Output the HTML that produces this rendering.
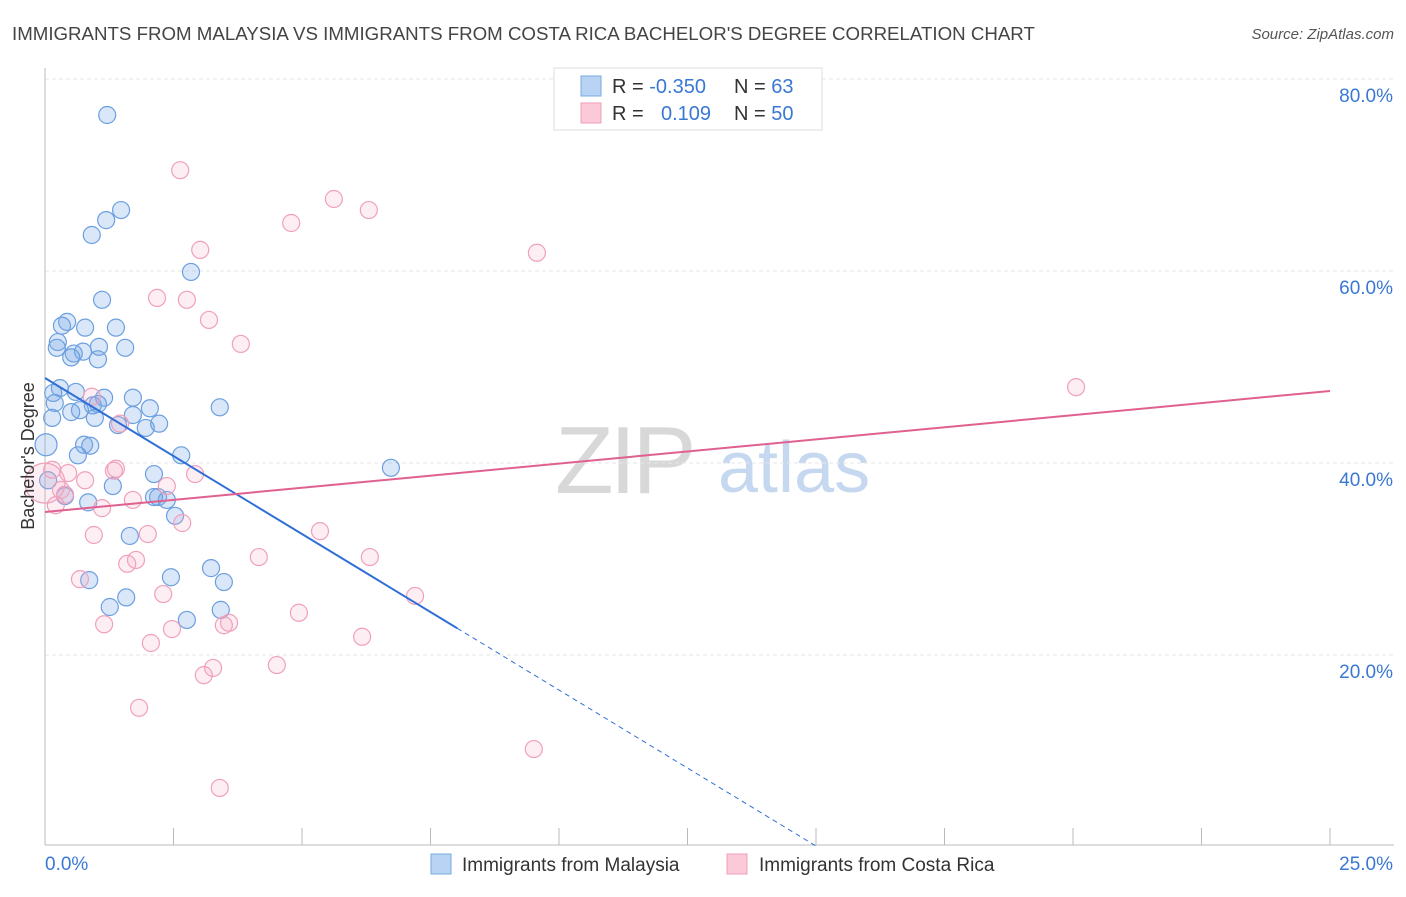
<!DOCTYPE html>
<html><head><meta charset="utf-8"><style>
body{margin:0;background:#fff;font-family:"Liberation Sans",sans-serif;}
svg text{font-family:"Liberation Sans",sans-serif;}
</style></head><body>
<svg id="chart" width="1406" height="892" xmlns="http://www.w3.org/2000/svg">
<text x="12" y="40" font-size="18.7" fill="#444">IMMIGRANTS FROM MALAYSIA VS IMMIGRANTS FROM COSTA RICA BACHELOR'S DEGREE CORRELATION CHART</text>
<text x="1394" y="39" font-size="15" fill="#555" text-anchor="end" font-style="italic">Source: ZipAtlas.com</text>
<g>
<text x="555" y="493" font-size="96" fill="#d8d8d8" font-family="Liberation Serif" letter-spacing="-4">ZIP</text>
<text x="718" y="492" font-size="72" fill="#c5d8f0">atlas</text>
</g>
<g id="grid"></g>
<g id="axes"></g>
<g id="marks"></g>
<g id="lines"></g>
<text transform="translate(34,456) rotate(-90)" font-size="18" fill="#333" text-anchor="middle">Bachelor's Degree</text>
<g>
<rect x="554" y="68" width="268" height="62" fill="#fff" stroke="#ddd"/>
<rect x="581" y="76" width="20" height="20" fill="#b8d3f3" stroke="#7aa8e0"/>
<rect x="581" y="103" width="20" height="20" fill="#fcc9d8" stroke="#eea0b8"/>
<text x="612" y="93" font-size="20" fill="#333">R = <tspan fill="#3a78d4">-0.350</tspan></text>
<text x="734" y="93" font-size="20" fill="#333">N = <tspan fill="#3a78d4">63</tspan></text>
<text x="612" y="120" font-size="20" fill="#333">R = </text><text x="661" y="120" font-size="20" fill="#3a78d4">0.109</text>
<text x="734" y="120" font-size="20" fill="#333">N = <tspan fill="#3a78d4">50</tspan></text>
</g>
<g>
<rect x="431" y="854" width="20" height="20" fill="#b8d3f3" stroke="#7aa8e0"/>
<text x="462" y="871" font-size="19" fill="#333">Immigrants from Malaysia</text>
<rect x="727" y="854" width="20" height="20" fill="#fcc9d8" stroke="#eea0b8"/>
<text x="759" y="871" font-size="19" fill="#333">Immigrants from Costa Rica</text>
</g>
</svg>
<script>
const yTicks=[20,40,60,80];
const yTickLabels=["20.0%","40.0%","60.0%","80.0%"];
const xTicks=[0,2.5,5,7.5,10,12.5,15,17.5,20,22.5,25];
const xEndLabels=["0.0%","25.0%"];
const malaysiaX=[1.21,1.48,1.19,0.91,2.84,1.11,0.43,0.33,0.78,1.38,0.25,0.23,1.56,0.74,0.56,0.51,1.05,1.03,0.29,0.16,0.60,0.19,1.15,1.71,0.93,1.03,0.68,0.51,2.04,3.40,0.14,0.97,1.71,1.42,1.96,2.22,0.76,0.88,0.02,0.64,2.65,2.12,6.73,0.06,1.32,0.39,0.84,2.20,2.12,2.37,2.53,1.65,3.23,2.45,0.86,3.48,1.58,1.26,3.42,2.76];
const malaysiaY=[76.25,66.35,65.3,63.75,59.9,57.0,54.7,54.3,54.1,54.1,52.6,52.0,52.0,51.6,51.4,51.0,52.1,50.8,47.8,47.3,47.4,46.25,46.8,46.8,46.0,46.15,45.5,45.3,45.7,45.8,44.7,44.7,45.0,43.95,43.65,44.1,41.9,41.8,41.9,40.8,40.8,38.85,39.5,38.2,37.6,36.55,35.9,36.45,36.45,36.15,34.5,32.4,29.05,28.1,27.8,27.6,26.0,25.0,24.7,23.65];
const costaX=[2.63,5.62,6.30,4.79,9.57,3.02,2.18,2.76,3.19,3.81,20.06,0.91,1.46,0.14,0.45,1.34,1.38,2.92,0.78,2.37,0.31,0.39,1.71,0.21,1.11,2.67,5.35,0.95,2.00,4.16,6.32,1.77,1.60,0.68,2.30,7.20,4.94,1.15,3.58,3.48,2.47,6.17,2.06,3.27,4.51,3.09,1.83,9.51,3.40,0.0];
const costaY=[70.5,67.5,66.35,65.0,61.9,62.2,57.2,57.0,54.9,52.4,47.9,46.9,44.1,39.3,38.95,39.2,39.4,38.85,38.2,37.6,37.2,36.7,36.15,35.6,35.3,33.75,32.9,32.5,32.6,30.2,30.2,29.9,29.5,27.9,26.35,26.15,24.4,23.2,23.35,23.1,22.7,21.9,21.25,18.65,18.95,17.9,14.5,10.2,6.15,37.9];
const malaysiaFit=[48.85,-3.25];
const costaFit=[34.9,0.504];
const NS="http://www.w3.org/2000/svg";
const X=v=>45+v*51.4, Y=v=>847-v*9.6;
function mk(tag,parent,attrs){const e=document.createElementNS(NS,tag);for(const k in attrs)e.setAttribute(k,attrs[k]);document.getElementById(parent).appendChild(e);return e;}
yTicks.forEach((t,i)=>{
 const g=mk('line','grid',{x1:45,x2:1394,y1:Y(t),y2:Y(t),stroke:'#e6e6e6','stroke-dasharray':'4,3'});
 
 
 const l=mk('text','axes',{x:1393,y:Y(t)+23,'font-size':19,fill:'#3a78d4','text-anchor':'end'});
 l.textContent=yTickLabels[i];
 
 
});
const ax=mk('line','axes',{x1:45,x2:1394,y1:845,y2:845,stroke:'#bbb'});


const ay=mk('line','axes',{x1:45,x2:45,y1:68,y2:845,stroke:'#bbb'});


xTicks.forEach(t=>{const k=mk('line','axes',{x1:X(t),x2:X(t),y1:828,y2:845,stroke:'#bbb'});
 
 });
const xl0=mk('text','axes',{x:45,y:870,'font-size':19,fill:'#3a78d4'});xl0.textContent=xEndLabels[0];


const xl1=mk('text','axes',{x:1393,y:870,'font-size':19,fill:'#3a78d4','text-anchor':'end'});xl1.textContent=xEndLabels[1];


malaysiaX.forEach((v,i)=>{const c=mk('circle','marks',{cx:X(v),cy:Y(malaysiaY[i]),r:v<0.05?11:8.5,fill:'rgba(120,170,230,0.28)',stroke:'#6c9fe0','stroke-width':1.2});
 
 });
costaX.forEach((v,i)=>{const c=mk('circle','marks',{cx:X(v),cy:Y(costaY[i]),r:i==costaX.length-1?20:8.5,fill:'rgba(245,170,195,0.2)',stroke:'#f0a0bb','stroke-width':1.2});
 
 });
const f=(fit,x)=>fit[0]+fit[1]*x;
const b1=mk('line','lines',{x1:X(0),y1:Y(f(malaysiaFit,0)),x2:X(8.02),y2:Y(f(malaysiaFit,8.02)),stroke:'#2f6fd6','stroke-width':2});


const xz=-malaysiaFit[0]/malaysiaFit[1];
const b2=mk('line','lines',{x1:X(8.02),y1:Y(f(malaysiaFit,8.02)),x2:X(xz),y2:Y(0),stroke:'#2f6fd6','stroke-width':1,'stroke-dasharray':'5,4'});


const p1=mk('line','lines',{x1:X(0),y1:Y(f(costaFit,0)),x2:X(25),y2:Y(f(costaFit,25)),stroke:'#e06090','stroke-width':2});


</script>
</body></html>
